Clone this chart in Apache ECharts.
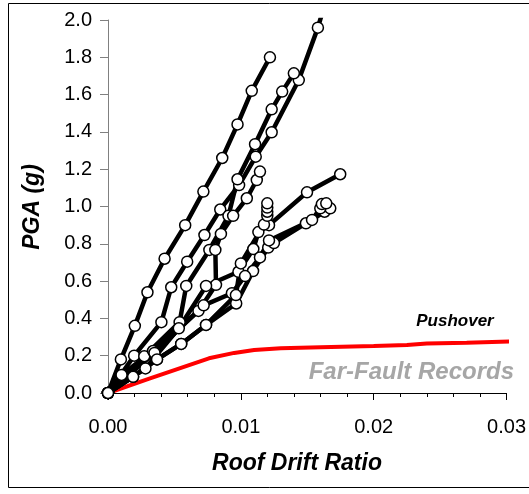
<!DOCTYPE html>
<html><head><meta charset="utf-8">
<script src="https://cdn.jsdelivr.net/npm/echarts@6/dist/echarts.min.js"></script>
<style>html,body{margin:0;padding:0;background:#fff}#c{width:529px;height:494px}</style>
</head><body><div id="c"></div>
<script>
// Roof drift ratio vs PGA (g), IDA curves for far-fault records
const recA  = [[0,0],[0.00097,0.18],[0.00202,0.36],[0.00297,0.54],[0.00426,0.72],[0.00581,0.90],[0.00718,1.08],[0.0086,1.26],[0.00975,1.44],[0.01082,1.62],[0.01219,1.80]];
const recB1 = [[0,0],[0.00197,0.20],[0.00402,0.38],[0.00476,0.567],[0.00596,0.704],[0.00726,0.847],[0.00845,0.984],[0.00987,1.115],[0.01112,1.267],[0.01232,1.398],[0.01436,1.678],[0.0158,1.959],[0.01695,2.24]];
const recB2 = [[0,0],[0.00273,0.197],[0.00539,0.38],[0.00589,0.574],[0.00763,0.767],[0.00907,0.95],[0.00975,1.146],[0.01107,1.334],[0.01232,1.521],[0.01311,1.616],[0.01399,1.714]];
const recC4 = [[0,0],[0.00102,0.097],[0.00339,0.225],[0.00681,0.44],[0.00813,0.58],[0.00808,0.767],[0.0085,0.853],[0.00942,0.95],[0.01045,1.044],[0.0112,1.142],[0.01144,1.187]];
const recC5 = [[0,0],[0.00189,0.087],[0.00369,0.18],[0.00551,0.263],[0.00738,0.365],[0.00965,0.48],[0.01092,0.654],[0.01206,0.78],[0.01249,0.804],[0.0149,0.91],[0.0163,0.972],[0.01673,0.99]];
const recC6 = [[0,0],[0.00282,0.132],[0.00533,0.347],[0.00738,0.574],[0.00982,0.65],[0.01094,0.772],[0.01132,0.863],[0.01212,0.90],[0.01498,1.076],[0.01748,1.173]];
const recC7 = [[0,0],[0.0035,0.215],[0.0072,0.47],[0.00933,0.535],[0.01032,0.627],[0.01144,0.727],[0.01212,0.818],[0.01536,0.928],[0.01598,0.99],[0.0161,1.013],[0.01643,1.017]];
const recC8 = [[0,0],[0.00189,0.087],[0.00369,0.18],[0.00551,0.263],[0.00738,0.365],[0.00963,0.525],[0.01,0.695],[0.01174,0.903],[0.01199,0.95],[0.01199,0.972],[0.01199,0.994],[0.01199,1.017]];
const pushover = [[0,0],[0.003,0.074],[0.0076,0.186],[0.0095,0.215],[0.011,0.23],[0.013,0.24],[0.016,0.245],[0.02,0.252],[0.0225,0.258],[0.024,0.266],[0.027,0.27],[0.0303,0.276]];
const records = [recA, recB1, recB2, recC4, recC5, recC6, recC7, recC8];

const font = "'Liberation Sans', Arial, sans-serif";
const chart = echarts.init(document.getElementById('c'), null, {renderer: 'canvas'});

const series = [{
  type: 'line', data: pushover, symbol: 'none', z: 2, clip: false,
  lineStyle: {color: '#ff0000', width: 4}
}];
records.forEach(r => series.push({
  type: 'line', data: r, symbol: 'none', z: 3,
  lineStyle: {color: '#000', width: 4.5}
}));
const pts = [];
records.forEach(r => r.forEach(p => { if (p[1] <= 2.0) pts.push(p); }));
series.push({
  type: 'scatter', data: pts, symbol: 'circle', symbolSize: 11, z: 5,
  itemStyle: {color: '#fff', borderColor: '#000', borderWidth: 1.5, opacity: 1}
});

chart.setOption({
  animation: false,
  grid: {left: 108, top: 20, right: 20, bottom: 101, containLabel: false},
  xAxis: {
    type: 'value', min: 0, max: 0.03, interval: 0.01,
    axisLine: {lineStyle: {color: '#000', width: 1}},
    axisTick: {show: true, length: 7, lineStyle: {color: '#000'}},
    minorTick: {show: true, splitNumber: 5, length: 4, lineStyle: {color: '#000'}},
    splitLine: {show: false},
    axisLabel: {formatter: v => v.toFixed(2), fontFamily: font, fontSize: 20, color: '#000', margin: 24}
  },
  yAxis: {
    type: 'value', min: 0, max: 2.0, interval: 0.2,
    axisLine: {show: true, lineStyle: {color: '#808080', width: 1}},
    axisTick: {show: true, length: 8, lineStyle: {color: '#808080'}},
    splitLine: {show: false},
    axisLabel: {formatter: v => v.toFixed(1), fontFamily: font, fontSize: 20, color: '#000', margin: 16}
  },
  graphic: [
    {type: 'rect', shape: {x: 8.5, y: 3.5, width: 530, height: 484}, style: {fill: 'none', stroke: '#000', lineWidth: 1}, z: -1},
    {type: 'text', x: 297, y: 464, style: {text: 'Roof Drift Ratio', font: 'italic bold 23px ' + font, fill: '#000', textAlign: 'center', textVerticalAlign: 'middle'}},
    {type: 'text', x: 33, y: 207, rotation: Math.PI / 2, style: {text: 'PGA (g)', font: 'italic bold 23px ' + font, fill: '#000', textAlign: 'center', textVerticalAlign: 'middle'}},
    {type: 'text', x: 455, y: 321, style: {text: 'Pushover', font: 'italic bold 17px ' + font, fill: '#000', textAlign: 'center', textVerticalAlign: 'middle'}},
    {type: 'text', x: 514, y: 372, style: {text: 'Far-Fault Records', font: 'italic bold 24px ' + font, fill: '#a6a6a6', textAlign: 'right', textVerticalAlign: 'middle'}}
  ],
  series: series
});
</script></body></html>
